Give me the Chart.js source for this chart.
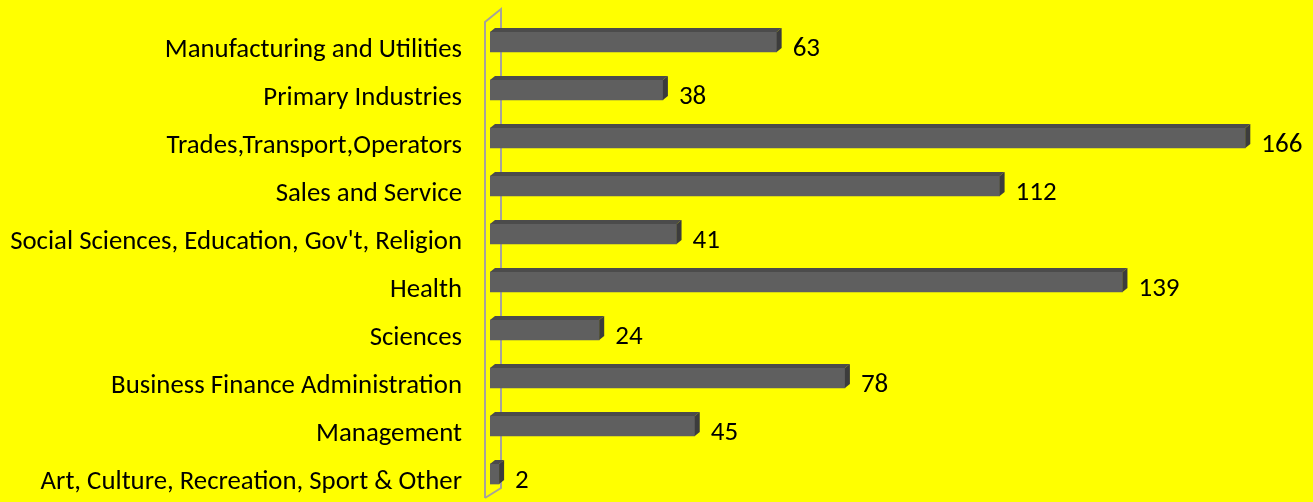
<!DOCTYPE html>
<html>
<head>
<meta charset="utf-8">
<script src="https://cdn.jsdelivr.net/npm/chart.js@4"></script>
<style>
html,body{margin:0;padding:0;background:#ffff00;overflow:hidden;}
#wrap{width:1313px;height:502px;position:relative;}
</style>
</head>
<body>
<div id="wrap"><canvas id="c" width="1313" height="502"></canvas></div>
<script>
const categories = [
  "Manufacturing and Utilities",
  "Primary Industries",
  "Trades,Transport,Operators",
  "Sales and Service",
  "Social Sciences, Education, Gov't, Religion",
  "Health",
  "Sciences",
  "Business Finance Administration",
  "Management",
  "Art, Culture, Recreation, Sport & Other"
];
const values = [63, 38, 166, 112, 41, 139, 24, 78, 45, 2];

const FONT = "Carlito, Calibri, Lato, sans-serif";
const DX = 5, DY = -4;

const wallPlugin = {
  id: 'wall',
  beforeDatasetsDraw(chart) {
    const ctx = chart.ctx, a = chart.chartArea;
    const fx = a.left - 5, bx = a.left + 11;
    ctx.save();
    ctx.strokeStyle = '#a6a39a';
    ctx.lineWidth = 2;
    ctx.beginPath();
    ctx.moveTo(fx, a.bottom);
    ctx.lineTo(fx, a.top + 4);
    ctx.lineTo(bx, a.top - 9);
    ctx.lineTo(bx, a.bottom - 10);
    ctx.lineTo(fx, a.bottom);
    ctx.stroke();
    ctx.restore();
  }
};

const bar3dPlugin = {
  id: 'bar3d',
  afterDatasetsDraw(chart) {
    const ctx = chart.ctx;
    const meta = chart.getDatasetMeta(0);
    ctx.save();
    meta.data.forEach((el, i) => {
      const p = el.getProps(['x', 'y', 'base', 'height'], true);
      const x0 = p.base, x1 = p.x, top = p.y - p.height / 2, bot = p.y + p.height / 2;
      ctx.fillStyle = '#4b4b4b';
      ctx.beginPath();
      ctx.moveTo(x0, top);
      ctx.lineTo(x0 + DX, top + DY);
      ctx.lineTo(x1 + DX, top + DY);
      ctx.lineTo(x1, top);
      ctx.closePath();
      ctx.fill();
      ctx.fillStyle = '#3c3c3c';
      ctx.beginPath();
      ctx.moveTo(x1, top);
      ctx.lineTo(x1 + DX, top + DY);
      ctx.lineTo(x1 + DX, bot + DY);
      ctx.lineTo(x1, bot);
      ctx.closePath();
      ctx.fill();
      ctx.fillStyle = '#000';
      ctx.font = '27px ' + FONT;
      ctx.textAlign = 'left';
      ctx.textBaseline = 'middle';
      ctx.fillText(String(values[i]), x1 + 16, p.y + 7);
    });
    ctx.restore();
  }
};

new Chart(document.getElementById('c'), {
  type: 'bar',
  data: {
    labels: categories,
    datasets: [{
      data: values,
      backgroundColor: '#5f5f5f',
      borderWidth: 0,
      barThickness: 20
    }]
  },
  options: {
    indexAxis: 'y',
    responsive: false,
    animation: false,
    layout: { padding: { top: 18, bottom: 4, right: 4, left: 0 } },
    plugins: { legend: { display: false }, tooltip: { enabled: false } },
    scales: {
      x: { display: false, min: 0, max: 180 },
      y: {
        afterFit(scale) { scale.width = 490; scale.paddingTop = 0; scale.paddingBottom = 0; },
        grid: { display: false, drawTicks: false },
        border: { display: false },
        ticks: {
          color: '#000',
          padding: 28,
          labelOffset: 8,
          font: { family: FONT, size: 26.8 }
        }
      }
    }
  },
  plugins: [wallPlugin, bar3dPlugin]
});
</script>
</body>
</html>
